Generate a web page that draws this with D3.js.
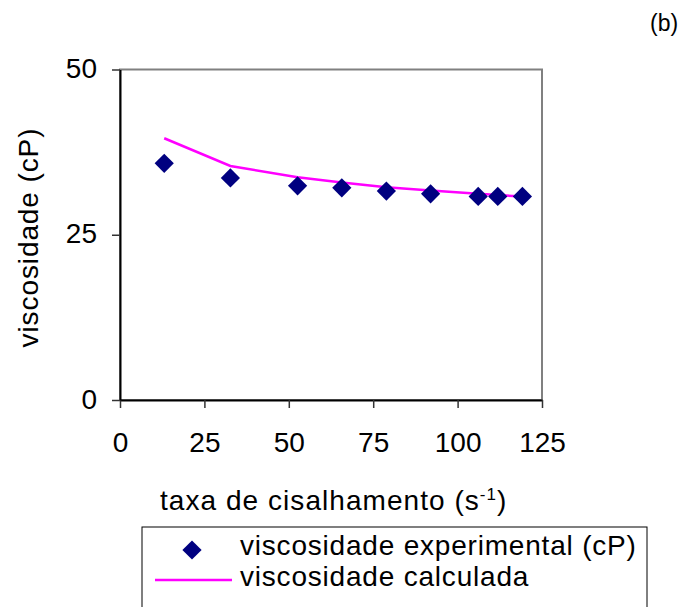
<!DOCTYPE html>
<html>
<head>
<meta charset="utf-8">
<script src="https://cdn.jsdelivr.net/npm/d3@7"></script>
<style>
  html, body { margin: 0; padding: 0; background: #fff; }
  svg text { font-family: "Liberation Sans", Arial, sans-serif; fill: #000; }
</style>
</head>
<body>
<svg id="chart" width="685" height="607"></svg>
<script>
// Shear rate (s^-1) and viscosity (cP)
const shearRate = [13.1, 32.7, 52.6, 65.7, 78.9, 92.0, 106.1, 111.9, 119.2];
const viscExperimental = [35.8, 33.6, 32.4, 32.1, 31.6, 31.2, 30.8, 30.8, 30.8];
const viscCalculated = [39.6, 35.4, 33.7, 32.9, 32.2, 31.7, 31.2, 31.0, 30.8];
const xTicks = [0, 25, 50, 75, 100, 125];
const yTicks = [0, 25, 50];
const seriesNames = ["viscosidade experimental (cP)", "viscosidade calculada"];

const svg = d3.select("#chart");
const x = d3.scaleLinear().domain([0, 125]).range([120, 542]);
const y = d3.scaleLinear().domain([0, 50]).range([400, 69.5]);

// plot frame (top & right edges grey)
svg.append("rect")
  .attr("x", x(0)).attr("y", y(50))
  .attr("width", x(125) - x(0)).attr("height", y(0) - y(50))
  .attr("fill", "none").attr("stroke", "#808080").attr("stroke-width", 2);

// axes
const xAxis = svg.append("g").attr("transform", `translate(0,${y(0)})`)
  .call(d3.axisBottom(x).tickValues(xTicks).tickSizeInner(8).tickSizeOuter(0).tickFormat(d3.format("d")));
const yAxis = svg.append("g").attr("transform", `translate(${x(0)},0)`)
  .call(d3.axisLeft(y).tickValues(yTicks).tickSizeInner(8).tickSizeOuter(0).tickFormat(d3.format("d")));

[xAxis, yAxis].forEach(g => {
  g.select(".domain").attr("stroke", "#000").attr("stroke-width", 2);
  g.selectAll(".tick line").attr("stroke", "#333").attr("stroke-width", 1.5);
  g.selectAll(".tick text").attr("font-size", 28).attr("font-family", "Liberation Sans, Arial, sans-serif").attr("fill", "#000");
});
xAxis.selectAll(".tick text").attr("y", 0).attr("dy", 0).attr("transform", "translate(0,52)");
yAxis.selectAll(".tick text").attr("x", -23).attr("dy", 0).attr("transform", "translate(0,8)");

// calculated viscosity line
const line = d3.line().x((d, i) => x(shearRate[i])).y(d => y(d));
svg.append("path").datum(viscCalculated)
  .attr("d", line).attr("fill", "none")
  .attr("stroke", "#ff00ff").attr("stroke-width", 2.5);

// experimental points as diamonds
const diamond = d3.symbol().type(d3.symbolSquare).size(185);
svg.append("g").selectAll("path").data(viscExperimental).join("path")
  .attr("d", diamond)
  .attr("transform", (d, i) => `translate(${x(shearRate[i])},${y(d)}) rotate(45)`)
  .attr("fill", "#000080");

// axis titles
svg.append("text").attr("transform", "translate(38,237.5) rotate(-90)")
  .attr("text-anchor", "middle").attr("font-size", 28).attr("letter-spacing", 0.9)
  .text("viscosidade (cP)");

const xt = svg.append("text").attr("x", 160).attr("y", 510)
  .attr("font-size", 28).attr("letter-spacing", 1.05);
xt.append("tspan").text("taxa de cisalhamento (s");
xt.append("tspan").attr("font-size", 17).attr("dy", -10).text("-1");
xt.append("tspan").attr("dy", 10).text(")");

// panel label
svg.append("text").attr("x", 650).attr("y", 31).attr("font-size", 23).text("(b)");

// legend
const lg = svg.append("g");
lg.append("rect").attr("x", 142).attr("y", 527).attr("width", 505).attr("height", 90)
  .attr("fill", "#fff").attr("stroke", "#000").attr("stroke-width", 1);
lg.append("path").attr("d", diamond)
  .attr("transform", "translate(192,550) rotate(45)").attr("fill", "#000080");
lg.append("line").attr("x1", 155).attr("x2", 232).attr("y1", 580).attr("y2", 580)
  .attr("stroke", "#ff00ff").attr("stroke-width", 2.5);
lg.selectAll("text").data(seriesNames).join("text")
  .attr("x", 240).attr("y", (d, i) => i === 0 ? 555 : 586)
  .attr("font-size", 28).attr("letter-spacing", 0.8)
  .text(d => d);
</script>
</body>
</html>
